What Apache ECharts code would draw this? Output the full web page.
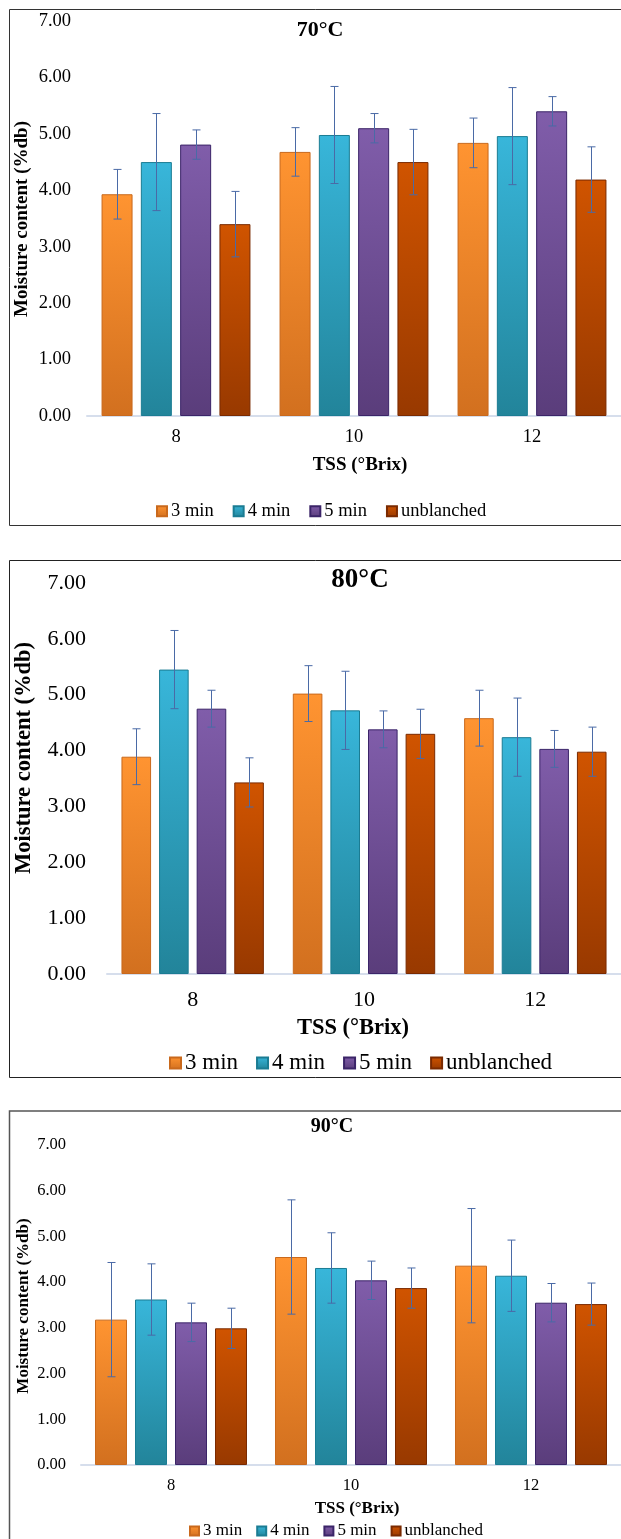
<!DOCTYPE html>
<html>
<head>
<meta charset="utf-8">
<script src="https://cdn.jsdelivr.net/npm/echarts@6/dist/echarts.min.js"></script>
<style>
html,body{margin:0;padding:0;background:#fff;overflow:hidden;}
#chart{width:621px;height:1539px;}
</style>
</head>
<body>
<div id="chart"></div>
<script>
// ---------- DATA ----------
const categories = ['8', '10', '12'];
const seriesNames = ['3 min', '4 min', '5 min', 'unblanched'];
const panelTitles = ['70°C', '80°C', '90°C'];
const yAxisName = 'Moisture content (%db)';
const xAxisName = 'TSS (°Brix)';
const yMin = 0, yMax = 7, yStep = 1;

// 70 °C
const mean70_3 = [3.93, 4.68, 4.84];
const mean70_4 = [4.50, 4.98, 4.96];
const mean70_5 = [4.81, 5.10, 5.40];
const mean70_u = [3.40, 4.50, 4.19];
const err70_3 = [0.44, 0.43, 0.44];
const err70_4 = [0.86, 0.86, 0.86];
const err70_5 = [0.26, 0.26, 0.26];
const err70_u = [0.58, 0.58, 0.58];

// 80 °C
const mean80_3 = [3.89, 5.02, 4.58];
const mean80_4 = [5.45, 4.72, 4.24];
const mean80_5 = [4.75, 4.38, 4.03];
const mean80_u = [3.43, 4.30, 3.98];
const err80_3 = [0.50, 0.50, 0.50];
const err80_4 = [0.70, 0.70, 0.70];
const err80_5 = [0.33, 0.33, 0.33];
const err80_u = [0.44, 0.44, 0.44];

// 90 °C
const mean90_3 = [3.18, 4.55, 4.36];
const mean90_4 = [3.62, 4.31, 4.14];
const mean90_5 = [3.12, 4.04, 3.55];
const mean90_u = [2.99, 3.87, 3.52];
const err90_3 = [1.25, 1.25, 1.25];
const err90_4 = [0.78, 0.77, 0.78];
const err90_5 = [0.42, 0.42, 0.42];
const err90_u = [0.44, 0.44, 0.46];

// ---------- STYLE / LAYOUT ----------
const panelMeans = [
  [mean70_3, mean70_4, mean70_5, mean70_u],
  [mean80_3, mean80_4, mean80_5, mean80_u],
  [mean90_3, mean90_4, mean90_5, mean90_u]
];
const panelErrs = [
  [err70_3, err70_4, err70_5, err70_u],
  [err80_3, err80_4, err80_5, err80_u],
  [err90_3, err90_4, err90_5, err90_u]
];

const FONT = '"Liberation Serif", "Times New Roman", serif';
const fills = [
  ['#FF9431', '#D2701F'],
  ['#38B6DA', '#22849A'],
  ['#805DAA', '#5A3D7B'],
  ['#D05400', '#983900']
];
const strokes = ['#C9691C', '#1B7C93', '#3B2468', '#7A2A00'];
const errColor = '#4A6AA6';

const layouts = [
  {top: 21, height: 395, left: 87, width: 545, bw: 31, gap: 8.3, tick: 18.5, yMargin: 16, xMargin: 12,
   title: {x: 320, y: 30, size: 22}, yName: {x: 22.5, y: 219, size: 19}, xName: {x: 360, y: 465.5, size: 19},
   legend: {left: 156, y: 511, size: 18.5, gap: 19, icon: 10},
   border: {y0: 9.5, y1: 525.5, color: '#333', lw: 1}},
  {top: 583, height: 391, left: 107, width: 519, bw: 29.6, gap: 8, tick: 22, yMargin: 21, xMargin: 15,
   title: {x: 360, y: 580, size: 27}, yName: {x: 24.5, y: 758, size: 22.5}, xName: {x: 353, y: 1028, size: 22.5},
   legend: {left: 169, y: 1063, size: 23, gap: 18, icon: 11},
   border: {y0: 560.5, y1: 1077.5, color: '#222', lw: 1}},
  {top: 1145, height: 320, left: 81, width: 553, bw: 32, gap: 8, tick: 16.5, yMargin: 15, xMargin: 12,
   title: {x: 332, y: 1127, size: 20}, yName: {x: 24, y: 1306, size: 17}, xName: {x: 357, y: 1509, size: 17},
   legend: {left: 189, y: 1531, size: 17, gap: 14, icon: 9},
   border: {y0: 1111, y1: 1600, color: '#555', lw: 1.5}}
];

const grids = [], xAxes = [], yAxes = [], series = [], legends = [], graphics = [];

layouts.forEach((L, p) => {
  grids.push({left: L.left, top: L.top, width: L.width, height: L.height, containLabel: false});
  xAxes.push({
    type: 'category', gridIndex: p, data: categories,
    axisLine: {show: true, lineStyle: {color: '#D6DEEC', width: 2}},
    axisTick: {show: false},
    axisLabel: {fontFamily: FONT, fontSize: L.tick, color: '#000', margin: L.xMargin},
    splitLine: {show: false}
  });
  yAxes.push({
    type: 'value', gridIndex: p, min: yMin, max: yMax, interval: yStep,
    axisLine: {show: false}, axisTick: {show: false}, splitLine: {show: false},
    axisLabel: {fontFamily: FONT, fontSize: L.tick, color: '#000', margin: L.yMargin,
      formatter: v => v.toFixed(2)}
  });
  seriesNames.forEach((name, s) => {
    series.push({
      type: 'bar', name: name, xAxisIndex: p, yAxisIndex: p,
      data: panelMeans[p][s],
      barWidth: L.bw, barGap: (L.gap / L.bw * 100) + '%',
      itemStyle: {
        color: new echarts.graphic.LinearGradient(0, 0, 0, 1, [
          {offset: 0, color: fills[s][0]}, {offset: 1, color: fills[s][1]}]),
        borderColor: strokes[s], borderWidth: 1
      },
      emphasis: {disabled: true},
      z: 2
    });
  });
  seriesNames.forEach((name, s) => {
    const m = panelMeans[p][s], e = panelErrs[p][s];
    series.push({
      type: 'custom', xAxisIndex: p, yAxisIndex: p, silent: true, z: 10,
      data: m.map((v, k) => [k, v - e[k], v + e[k]]),
      encode: {x: 0, y: [1, 2]},
      renderItem: (params, api) => {
        const idx = api.value(0);
        const lo = api.coord([idx, api.value(1)]);
        const hi = api.coord([idx, api.value(2)]);
        const x = Math.round(lo[0] + (s - 1.5) * (L.bw + L.gap)) + 0.5;
        const st = {stroke: errColor, lineWidth: 1};
        return {type: 'group', children: [
          {type: 'line', shape: {x1: x, y1: hi[1], x2: x, y2: lo[1]}, style: st},
          {type: 'line', shape: {x1: x - 4, y1: hi[1], x2: x + 4, y2: hi[1]}, style: st},
          {type: 'line', shape: {x1: x - 4, y1: lo[1], x2: x + 4, y2: lo[1]}, style: st}
        ]};
      }
    });
  });
  legends.push({
    data: seriesNames, left: L.legend.left, top: L.legend.y - L.legend.size / 2,
    padding: 0,
    orient: 'horizontal', itemWidth: L.legend.icon, itemHeight: L.legend.icon,
    itemGap: L.legend.gap, icon: 'rect', selectedMode: false,
    textStyle: {fontFamily: FONT, fontSize: L.legend.size, color: '#000', lineHeight: L.legend.size, padding: [0, 0, 0, -1]}
  });
  graphics.push({
    type: 'rect', silent: true, z: -1,
    shape: {x: 9.5, y: L.border.y0, width: 660, height: L.border.y1 - L.border.y0},
    style: {fill: 'none', stroke: L.border.color, lineWidth: L.border.lw}
  });
  graphics.push({
    type: 'text', silent: true,
    style: {text: panelTitles[p], x: L.title.x, y: L.title.y, align: 'center', verticalAlign: 'middle',
      font: 'bold ' + L.title.size + 'px ' + FONT, fill: '#000'}
  });
  graphics.push({
    type: 'text', silent: true,
    style: {text: xAxisName, x: L.xName.x, y: L.xName.y, align: 'center', verticalAlign: 'middle',
      font: 'bold ' + L.xName.size + 'px ' + FONT, fill: '#000'}
  });
  graphics.push({
    type: 'text', silent: true, x: L.yName.x, y: L.yName.y, rotation: Math.PI / 2,
    style: {text: yAxisName, x: 0, y: 0, align: 'center', verticalAlign: 'middle',
      font: 'bold ' + L.yName.size + 'px ' + FONT, fill: '#000'}
  });
});

const chart = echarts.init(document.getElementById('chart'), null, {renderer: 'canvas'});
chart.setOption({
  animation: false,
  backgroundColor: '#fff',
  grid: grids, xAxis: xAxes, yAxis: yAxes, series: series, legend: legends,
  graphic: graphics
});
</script>
</body>
</html>
